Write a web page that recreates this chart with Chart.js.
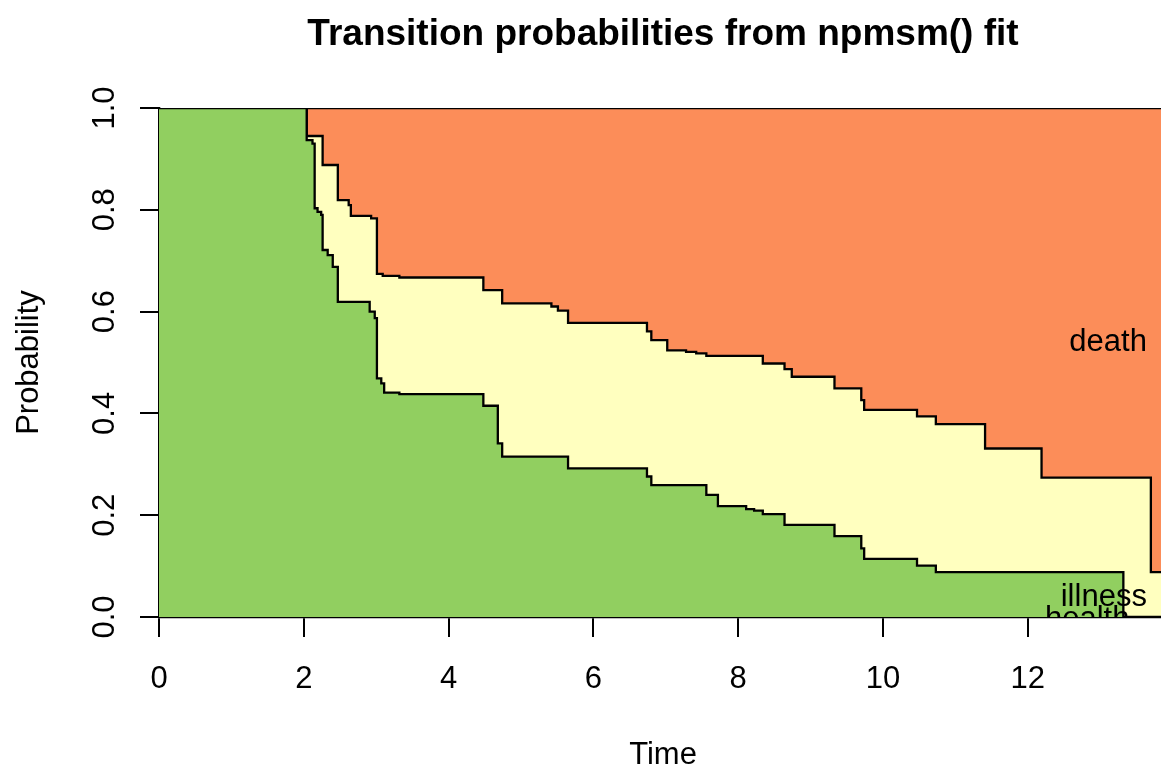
<!DOCTYPE html>
<html>
<head>
<meta charset="utf-8">
<title>Transition probabilities</title>
<script src="https://cdn.jsdelivr.net/npm/chart.js@4/dist/chart.umd.min.js"></script>
<style>
  html, body { margin: 0; padding: 0; background: #fff; }
  #wrap { width: 1161px; height: 768px; }
</style>
</head>
<body>
<div id="wrap"><canvas id="probChart" width="1161" height="768"></canvas></div>
<script>
// step times and state occupation probabilities (value holds until next time)
const times   = [0, 2.04, 2.12, 2.15, 2.19, 2.24, 2.26, 2.33, 2.40, 2.47, 2.62, 2.65, 2.91, 2.93, 2.98,
                 3.01, 3.07, 3.09, 3.11, 3.32, 4.48, 4.68, 4.74, 5.42, 5.51, 5.65, 6.74, 6.80, 7.02,
                 7.28, 7.42, 7.56, 7.72, 8.11, 8.22, 8.34, 8.64, 8.74, 9.33, 9.70, 9.74, 10.47, 10.73,
                 11.41, 12.19, 13.32, 13.70, 13.84];
const health  = [1, .937, .930, .803, .796, .790, .721, .711, .688, .619, .619, .619, .600, .600, .587,
                 .469, .459, .459, .441, .438, .415, .341, .315, .315, .315, .292, .276, .259, .259,
                 .259, .259, .240, .218, .212, .209, .202, .181, .181, .159, .135, .114, .101, .088,
                 .088, .088, 0, 0, 0];
const illness = [0, .008, .015, .142, .149, .155, .167, .177, .200, .200, .190, .169, .188, .183, .196,
                 .205, .215, .211, .229, .229, .227, .301, .301, .295, .287, .286, .285, .285, .265,
                 .262, .259, .273, .295, .301, .304, .296, .306, .291, .290, .291, .293, .293, .291,
                 .243, .186, .274, .088, .088];
const death   = [0, .055, .055, .055, .055, .055, .112, .112, .112, .181, .191, .212, .212, .217, .217,
                 .326, .326, .330, .330, .333, .358, .358, .384, .390, .398, .422, .439, .456, .476,
                 .479, .482, .487, .487, .487, .487, .502, .513, .528, .551, .574, .593, .606, .621,
                 .669, .726, .726, .912, .912];

const states     = ['health', 'illness', 'death'];
const stateFill  = ['#91CF60', '#FFFFBF', '#FC8D59'];
const stateLabelX = [12.82, 13.05, 13.11];

const xTicks = [0, 2, 4, 6, 8, 10, 12];
const yTicks = [0, 0.2, 0.4, 0.6, 0.8, 1.0];

const FONT = '"Liberation Sans", Arial, Helvetica, sans-serif';
const TXT = 31;

function series(vals) {
    return times.map((t, i) => ({ x: t, y: vals[i] }));
}

// text drawn by hand: title, tick labels, axis titles, state labels
const textPlugin = {
    id: 'rText',
    afterDatasetsDraw(chart) {
        const ctx = chart.ctx;
        const xs = chart.scales.x, ys = chart.scales.y;
        const area = chart.chartArea;

        // state names at the right, centred in each band at the last time
        const n = times.length - 1;
        const mids = [health[n] / 2, health[n] + illness[n] / 2, 1 - death[n] / 2];
        ctx.save();
        ctx.beginPath();
        ctx.rect(area.left, area.top, area.right - area.left, area.bottom - area.top);
        ctx.clip();
        ctx.fillStyle = '#000';
        ctx.font = TXT + 'px ' + FONT;
        ctx.textAlign = 'center';
        ctx.textBaseline = 'alphabetic';
        states.forEach((s, i) => {
            ctx.fillText(s, xs.getPixelForValue(stateLabelX[i]), ys.getPixelForValue(mids[i]) + 11);
        });
        ctx.restore();
    },
    afterDraw(chart) {
        const ctx = chart.ctx;
        const xs = chart.scales.x, ys = chart.scales.y;
        const area = chart.chartArea;
        const cx = 663;
        ctx.save();
        ctx.fillStyle = '#000';
        ctx.textBaseline = 'alphabetic';

        ctx.font = 'bold 37px ' + FONT;
        ctx.textAlign = 'center';
        ctx.fillText('Transition probabilities from npmsm() fit', cx, 45);

        ctx.font = TXT + 'px ' + FONT;
        xTicks.forEach(v => ctx.fillText(String(v), xs.getPixelForValue(v), 688));
        ctx.fillText('Time', cx, 764);

        yTicks.forEach(v => {
            ctx.save();
            ctx.translate(114, ys.getPixelForValue(v));
            ctx.rotate(-Math.PI / 2);
            ctx.fillText(v.toFixed(1), 0, 0);
            ctx.restore();
        });

        ctx.translate(38, (area.top + area.bottom) / 2);
        ctx.rotate(-Math.PI / 2);
        ctx.fillText('Probability', 0, 0);
        ctx.restore();
    }
};

const ctx = document.getElementById('probChart').getContext('2d');
const chart = new Chart(ctx, {
    type: 'line',
    data: {
        datasets: [health, illness, death].map((vals, i) => ({
            label: states[i],
            data: series(vals),
            stepped: 'before',
            fill: i === 0 ? 'origin' : '-1',
            backgroundColor: stateFill[i],
            borderColor: '#000',
            borderWidth: 2.3,
            pointRadius: 0,
            tension: 0
        }))
    },
    options: {
        responsive: false,
        animation: false,
        devicePixelRatio: 1,
        layout: { padding: { top: 108, right: 0, left: 0, bottom: 0 } },
        plugins: {
            legend: { display: false },
            title: { display: false },
            tooltip: { enabled: false }
        },
        scales: {
            x: {
                type: 'linear',
                min: 0,
                max: 13.84,
                ticks: { display: false, stepSize: 2, includeBounds: false },
                grid: { drawOnChartArea: false, drawTicks: true, tickLength: 20, color: '#000', lineWidth: 2 },
                border: { display: true, color: '#000', width: 2.3 },
                afterFit: s => { s.height = 151; }
            },
            y: {
                stacked: true,
                min: 0,
                max: 1,
                ticks: { display: false, stepSize: 0.2 },
                grid: { drawOnChartArea: false, drawTicks: true, tickLength: 19, color: '#000', lineWidth: 2 },
                border: { display: true, color: '#000', width: 2.3 },
                afterFit: s => { s.width = 159; }
            }
        }
    },
    plugins: [textPlugin]
});
</script>
</body>
</html>
